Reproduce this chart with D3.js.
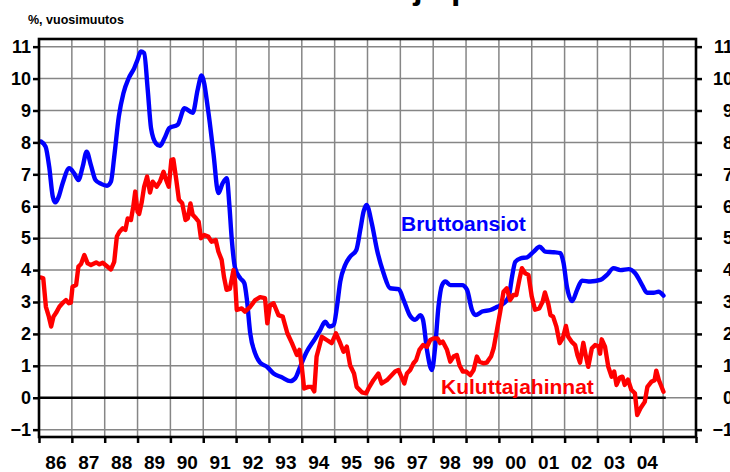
<!DOCTYPE html>
<html><head><meta charset="utf-8">
<script src="https://cdn.jsdelivr.net/npm/d3@7"></script>
<style>
html,body{margin:0;padding:0;background:#fff;}
svg{display:block;font-family:"Liberation Sans",Arial,sans-serif;}
</style></head>
<body><svg id="c" width="730" height="472"></svg>
<script>
const titleText = "Hinnat ja palkat";
const unitText = "%, vuosimuutos";
const seriesNames = ["Bruttoansiot", "Kuluttajahinnat"];
const yearLabels = ["86","87","88","89","90","91","92","93","94","95","96","97","98","99","00","01","02","03","04"];
const yTicks = [-1,0,1,2,3,4,5,6,7,8,9,10,11];

const bruttoT = [1986.06,1986.20,1986.31,1986.42,1986.50,1986.60,1986.72,1986.92,1987.07,1987.20,1987.33,1987.45,1987.58,1987.72,1987.89,1988.07,1988.19,1988.29,1988.43,1988.57,1988.73,1988.90,1989.00,1989.10,1989.20,1989.31,1989.41,1989.56,1989.68,1989.82,1989.97,1990.22,1990.43,1990.68,1990.83,1990.95,1991.16,1991.31,1991.46,1991.59,1991.72,1991.79,1991.87,1991.97,1992.13,1992.25,1992.33,1992.43,1992.58,1992.73,1992.94,1993.14,1993.39,1993.65,1993.80,1993.95,1994.15,1994.41,1994.56,1994.71,1994.84,1994.97,1995.07,1995.17,1995.32,1995.47,1995.66,1995.78,1995.88,1995.97,1996.13,1996.29,1996.49,1996.69,1996.95,1997.10,1997.30,1997.45,1997.61,1997.69,1997.81,1997.96,1998.06,1998.16,1998.27,1998.37,1998.52,1998.88,1999.03,1999.18,1999.29,1999.49,1999.74,1999.95,2000.15,2000.30,2000.40,2000.50,2000.66,2000.86,2001.06,2001.24,2001.41,2001.67,2001.87,2001.97,2002.07,2002.23,2002.38,2002.53,2002.78,2003.09,2003.29,2003.49,2003.70,2003.95,2004.15,2004.36,2004.51,2004.71,2004.86,2005.01];
const bruttoV = [8.03,7.87,7.24,6.30,6.12,6.30,6.72,7.19,7.03,6.82,7.24,7.71,7.29,6.82,6.70,6.64,6.77,7.55,8.81,9.54,10.01,10.33,10.59,10.85,10.80,9.65,8.45,7.97,7.89,8.13,8.45,8.55,9.07,8.93,9.65,10.10,8.92,7.66,6.41,6.72,6.88,6.10,4.94,4.06,3.74,3.59,3.06,2.02,1.39,1.10,0.97,0.76,0.64,0.52,0.61,0.97,1.44,1.86,2.12,2.38,2.23,2.28,2.85,3.64,4.16,4.42,4.63,5.26,5.83,6.04,5.47,4.63,3.90,3.43,3.40,3.06,2.56,2.44,2.59,2.44,1.50,0.87,1.60,2.85,3.53,3.64,3.53,3.53,3.38,2.75,2.59,2.70,2.75,2.85,2.96,3.17,3.79,4.26,4.37,4.40,4.58,4.73,4.58,4.56,4.53,4.21,3.48,3.03,3.38,3.67,3.64,3.69,3.85,4.06,4.00,4.03,3.90,3.53,3.29,3.29,3.32,3.20];

const kuluT = [1986.06,1986.13,1986.21,1986.30,1986.37,1986.44,1986.52,1986.62,1986.74,1986.82,1986.91,1986.97,1987.02,1987.13,1987.20,1987.28,1987.38,1987.48,1987.58,1987.74,1987.84,1987.94,1988.06,1988.19,1988.29,1988.37,1988.45,1988.55,1988.63,1988.70,1988.80,1988.87,1988.93,1989.00,1989.05,1989.13,1989.20,1989.29,1989.38,1989.46,1989.58,1989.68,1989.79,1989.87,1989.95,1990.03,1990.09,1990.18,1990.26,1990.36,1990.46,1990.53,1990.61,1990.68,1990.78,1990.86,1990.93,1991.03,1991.15,1991.25,1991.38,1991.46,1991.56,1991.63,1991.71,1991.81,1991.92,1991.97,1992.02,1992.17,1992.27,1992.43,1992.58,1992.73,1992.88,1992.95,1993.03,1993.14,1993.29,1993.42,1993.56,1993.70,1993.85,1993.93,1994.00,1994.07,1994.20,1994.30,1994.38,1994.45,1994.61,1994.76,1994.91,1995.04,1995.17,1995.27,1995.37,1995.47,1995.59,1995.67,1995.83,1995.96,1996.03,1996.18,1996.33,1996.43,1996.59,1996.74,1996.84,1996.94,1997.01,1997.12,1997.20,1997.30,1997.40,1997.48,1997.58,1997.69,1997.81,1997.91,1998.01,1998.13,1998.21,1998.29,1998.42,1998.52,1998.62,1998.72,1998.80,1998.90,1999.00,1999.13,1999.23,1999.33,1999.41,1999.53,1999.63,1999.76,1999.84,1999.94,2000.04,2000.14,2000.24,2000.34,2000.44,2000.53,2000.63,2000.70,2000.80,2000.90,2001.00,2001.10,2001.23,2001.33,2001.40,2001.50,2001.57,2001.65,2001.75,2001.85,2001.95,2002.04,2002.11,2002.21,2002.32,2002.39,2002.47,2002.57,2002.65,2002.72,2002.83,2002.93,2003.03,2003.08,2003.13,2003.23,2003.33,2003.43,2003.51,2003.58,2003.68,2003.76,2003.83,2003.93,2004.03,2004.14,2004.21,2004.31,2004.44,2004.52,2004.64,2004.74,2004.79,2004.87,2004.93,2005.01];
const kuluV = [3.77,3.74,2.85,2.54,2.23,2.54,2.66,2.85,2.99,3.06,2.96,2.98,3.48,3.53,4.11,4.19,4.47,4.21,4.16,4.24,4.18,4.23,4.13,4.02,4.26,5.05,5.20,5.31,5.26,5.62,5.57,5.99,6.46,5.83,5.76,6.14,6.61,6.93,6.43,6.77,6.61,6.77,7.08,6.82,6.61,7.45,7.47,6.82,6.20,6.09,5.57,5.62,6.09,5.73,5.62,5.52,5.00,5.10,5.05,4.89,4.94,4.58,4.32,3.79,3.38,3.41,4.00,3.64,2.75,2.80,2.70,2.85,3.06,3.15,3.12,2.33,2.90,2.96,2.59,2.54,2.02,1.71,1.34,1.50,0.97,0.29,0.34,0.34,0.20,1.29,1.91,1.81,1.71,2.02,1.71,1.44,1.60,1.02,0.76,0.34,0.17,0.14,0.29,0.55,0.76,0.45,0.55,0.71,0.82,0.87,0.71,0.45,0.76,0.87,1.08,1.18,1.50,1.65,1.60,1.81,1.86,1.86,1.71,1.76,1.50,1.13,1.29,1.34,1.02,0.82,0.82,0.71,0.87,1.29,1.13,1.08,1.10,1.29,1.55,2.12,2.70,3.32,3.43,3.06,3.22,3.22,3.74,4.06,3.90,3.85,3.17,2.76,2.80,3.01,3.30,2.96,2.59,2.54,2.23,1.71,1.88,2.25,1.91,1.76,1.65,1.34,1.10,1.72,1.29,0.97,1.55,1.65,1.62,1.38,1.83,1.60,0.97,0.66,0.82,0.40,0.63,0.66,0.40,0.57,0.25,0.14,-0.54,-0.33,-0.13,0.34,0.50,0.55,0.85,0.55,0.40,0.19];

const svg = d3.select("#c");
const L = 39, R = 696, T = 39, B = 437;
const x = d3.scaleLinear().domain([1986, 2006]).range([L, R]);
const y = d3.scaleLinear().domain([-1.23, 11.24]).range([B, T]);

// title (mostly cut off at top, like the reference)
svg.append("text").attr("x", 298).attr("y", -1)
  .attr("font-size", 34).attr("font-weight", "bold").attr("fill", "#000").text(titleText);
svg.append("text").attr("x", 28).attr("y", 24)
  .attr("font-size", 12.5).attr("font-weight", "bold").attr("fill", "#000").text(unitText);

// grid
const grid = svg.append("g");
grid.selectAll("line.h").data(yTicks).join("line")
  .attr("x1", L).attr("x2", R).attr("y1", d => y(d)).attr("y2", d => y(d))
  .attr("stroke", "#868686").attr("stroke-width", 1.5);
grid.selectAll("line.v").data(d3.range(1987, 2006)).join("line")
  .attr("x1", d => x(d)).attr("x2", d => x(d)).attr("y1", T).attr("y2", B)
  .attr("stroke", "#868686").attr("stroke-width", 1.5);

// zero line
svg.append("line").attr("x1", x(1986)).attr("x2", x(2005.08))
  .attr("y1", y(0)).attr("y2", y(0)).attr("stroke", "#000").attr("stroke-width", 2.6);

// series
const mk = (T_, V_) => T_.map((t, i) => [t, V_[i]]);
const lineB = d3.line().x(d => x(d[0])).y(d => y(d[1])).curve(d3.curveMonotoneX);
const lineR = d3.line().x(d => x(d[0])).y(d => y(d[1]));
svg.append("path").attr("d", lineB(mk(bruttoT, bruttoV))).attr("fill", "none")
  .attr("stroke", "#0000ff").attr("stroke-width", 4.4).attr("stroke-linejoin", "round").attr("stroke-linecap", "round");
svg.append("path").attr("d", lineR(mk(kuluT, kuluV))).attr("fill", "none")
  .attr("stroke", "#ff0000").attr("stroke-width", 4.4).attr("stroke-linejoin", "round").attr("stroke-linecap", "round");

// axes
const fmtY = d3.format("d");
const axL = svg.append("g").attr("transform", `translate(${L},0)`)
  .call(d3.axisLeft(y).tickValues(yTicks).tickSize(6).tickPadding(2).tickFormat(fmtY));
const axR = svg.append("g").attr("transform", `translate(${R},0)`)
  .call(d3.axisRight(y).tickValues(yTicks).tickSize(6).tickPadding(12).tickFormat(fmtY));
const axB = svg.append("g").attr("transform", `translate(0,${B})`)
  .call(d3.axisBottom(x).tickValues(d3.range(1986, 2007)).tickSize(6).tickFormat(""));
const axBL = svg.append("g").attr("transform", `translate(0,${B})`)
  .call(d3.axisBottom(x).tickValues(d3.range(1986, 2005).map(v => v + 0.5)).tickSize(0).tickPadding(19)
    .tickFormat((d, i) => yearLabels[i]));
[axL, axR, axB, axBL].forEach(g => {
  g.select(".domain").remove();
  g.selectAll(".tick line").attr("stroke", "#000").attr("stroke-width", 2.5);
  g.selectAll("text").attr("font-family", '"Liberation Sans",Arial,sans-serif')
    .attr("font-weight", "bold").attr("fill", "#000");
});
axL.selectAll("text").attr("font-size", 18).attr("x", -8);
axR.selectAll("text").attr("font-size", 18).attr("text-anchor", "end").attr("x", 37);
axBL.selectAll("text").attr("font-size", 19);

// frame
svg.append("rect").attr("x", L).attr("y", T).attr("width", R - L).attr("height", B - T)
  .attr("fill", "none").attr("stroke", "#000").attr("stroke-width", 2.6);

// series labels
svg.append("text").attr("x", 401).attr("y", 231).attr("font-size", 21).attr("font-weight", "bold")
  .attr("fill", "#0000ff").text(seriesNames[0]);
svg.append("text").attr("x", 441).attr("y", 394).attr("font-size", 21).attr("font-weight", "bold")
  .attr("fill", "#ff0000").text(seriesNames[1]);
</script></body></html>
